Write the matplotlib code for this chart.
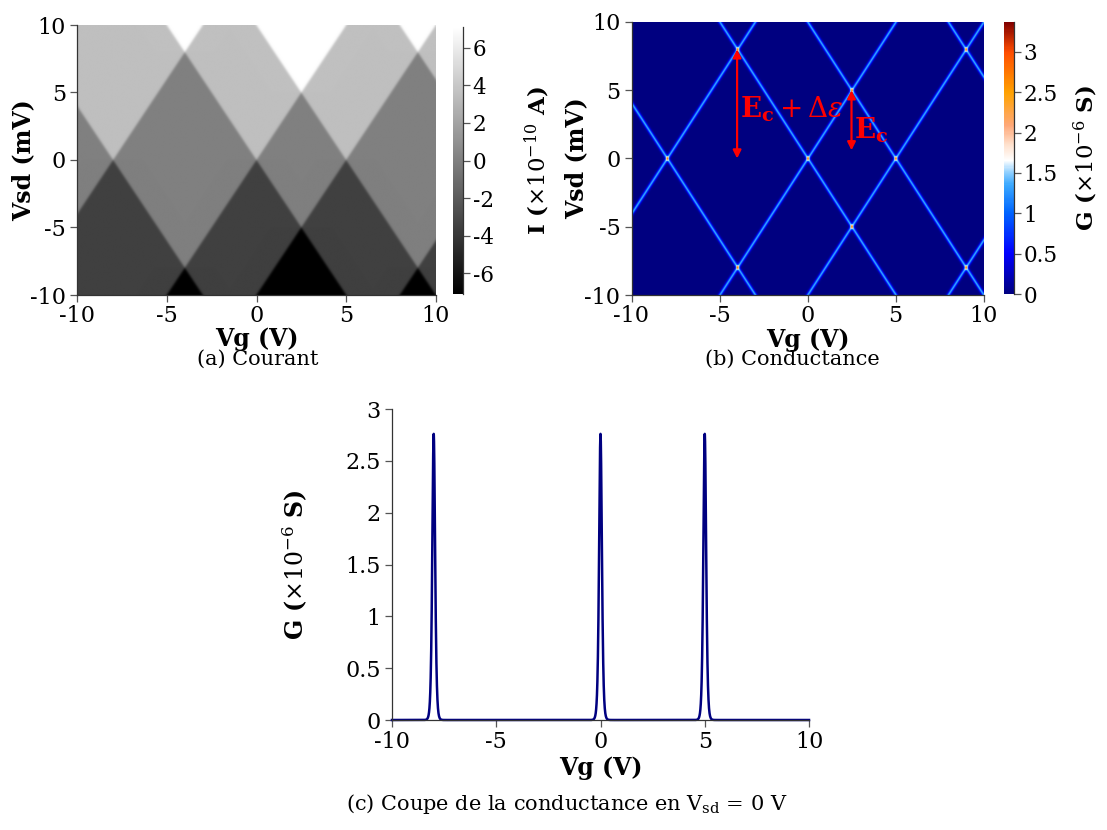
import numpy as np
import matplotlib
matplotlib.use("Agg")
import matplotlib.pyplot as plt
from matplotlib.colors import LinearSegmentedColormap
from matplotlib.ticker import FuncFormatter

plt.rcParams['font.family'] = ['DejaVu Serif']
plt.rcParams['mathtext.fontset'] = 'dejavuserif'
plt.rcParams['axes.unicode_minus'] = False

# ---------------- data ----------------
vg_degeneracy = [-8.0, 0.0, 5.0, 13.0]   # V, charge degeneracy points (Vsd = 0)
diamond_slope = 2.0                       # mV / V, edges of the diamonds
current_step = 3.55                       # x1e-10 A, current plateau step
g_line_peak = 1.38                        # x1e-6 S, conductance on one edge
kT = 0.09                                 # mV, thermal broadening of the edges

vg_ticks = [-10, -5, 0, 5, 10]
vsd_ticks = [-10, -5, 0, 5, 10]
i_ticks = [-6, -4, -2, 0, 2, 4, 6]
g_ticks = [0, 0.5, 1, 1.5, 2, 2.5, 3]
i_range = (-7.1, 7.1)
g_range = (0.0, 3.37)

arrow_x = [-4.0, 2.5]
arrow_top = [8.0, 5.0]
arrow_bottom = [0.0, 0.6]
arrow_text = [r'$\mathbf{E_c} + \mathit{\Delta\epsilon}$', r'$\mathbf{E_c}$']
arrow_text_pos = [(-3.85, 3.6), (2.65, 2.1)]

captions = ['(a) Courant', '(b) Conductance',
            r'(c) Coupe de la conductance en V$_{\rm sd}$ = 0 V']


# ---------------- maps built from the values above ----------------
def fermi(d):
    return 0.5 * (1 + np.tanh(d / (2 * kT)))


def edge_peak(d):
    return 1.0 / np.cosh(d / (2 * kT)) ** 2


vg = np.linspace(-10, 10, 704)
vsd = np.linspace(-10, 10, 546)
VG, VSD = np.meshgrid(vg, vsd)

current = np.zeros_like(VG)
cond = np.zeros_like(VG)
for v0 in vg_degeneracy:
    edge = diamond_slope * np.abs(VG - v0)
    current += current_step * (fermi(VSD - edge) + fermi(VSD + edge) - 1)
    cond += g_line_peak * (edge_peak(VSD - edge) + edge_peak(VSD + edge))

vg_cut = np.linspace(-10, 10, 4001)
g_cut = np.zeros_like(vg_cut)
for v0 in vg_degeneracy:
    g_cut += g_line_peak * 2 * edge_peak(diamond_slope * np.abs(vg_cut - v0))

g_cmap = LinearSegmentedColormap.from_list('g_map', [
    (0.00, '#000080'), (0.15, '#0000ff'), (0.30, '#0066ff'),
    (0.40, '#3aa8ff'), (0.45, '#95d2ff'), (0.49, '#ffffff'),
    (0.55, '#ffe0cc'), (0.62, '#ffa878'), (0.74, '#ffa200'),
    (0.89, '#ff4d00'), (1.00, '#800000')])

# ---------------- figure ----------------
W, H = 1107, 830
fig = plt.figure(figsize=(W / 100, H / 100), dpi=100)


def box(left, top, width, height):
    return [left / W, 1 - (top + height) / H, width / W, height / H]


ax_a = fig.add_axes(box(77, 25, 359, 270))
cax_a = fig.add_axes(box(453, 27, 10, 267))
ax_b = fig.add_axes(box(631.5, 22, 352, 273))
cax_b = fig.add_axes(box(1004, 22, 10, 272))
ax_c = fig.add_axes(box(392, 409, 417, 311))

fmt = FuncFormatter(lambda v, p: '%g' % v)


def style(ax):
    for s in ['top', 'right']:
        ax.spines[s].set_visible(False)
    for s in ['left', 'bottom']:
        ax.spines[s].set_color('#333333')
        ax.spines[s].set_linewidth(0.9)
    ax.tick_params(direction='out', length=5, width=0.9, color='#555555',
                   labelsize=16, pad=3)
    ax.xaxis.set_major_formatter(fmt)
    ax.yaxis.set_major_formatter(fmt)


im_a = ax_a.imshow(current, extent=[-10, 10, -10, 10], origin='lower',
                   aspect='auto', cmap='gray', vmin=i_range[0], vmax=i_range[1])
im_b = ax_b.imshow(cond, extent=[-10, 10, -10, 10], origin='lower',
                   aspect='auto', cmap=g_cmap, vmin=g_range[0], vmax=g_range[1])

for ax in (ax_a, ax_b):
    style(ax)
    ax.tick_params(axis='x', pad=2)
    ax.set_xticks(vg_ticks)
    ax.set_yticks(vsd_ticks)
    ax.set_xlabel('Vg (V)', fontweight='bold', fontsize=17)
    ax.set_ylabel('Vsd (mV)', fontweight='bold', fontsize=17)
    ax.xaxis.set_label_coords(0.5, -0.12)
ax_a.yaxis.set_label_coords(-0.117, 0.5)
ax_b.yaxis.set_label_coords(-0.124, 0.5)

for cax, im, ticks, lab, lx in [
        (cax_a, im_a, i_ticks, r'I ($\times10^{-10}$ A)', 7.0),
        (cax_b, im_b, g_ticks, r'G ($\times10^{-6}$ S)', 6.8)]:
    cb = fig.colorbar(im, cax=cax, ticks=ticks)
    cb.outline.set_visible(False)
    cax.spines['right'].set_visible(True)
    cax.spines['right'].set_color('#333333')
    cax.spines['right'].set_linewidth(0.9)
    cax.tick_params(direction='out', length=5, width=0.9, color='#555555',
                    labelsize=15.5, pad=2)
    cax.yaxis.set_major_formatter(fmt)
    cb.set_label(lab, fontweight='bold', fontsize=16.5)
    cax.yaxis.set_label_coords(lx, 0.5)

for x, y0, y1 in zip(arrow_x, arrow_top, arrow_bottom):
    ax_b.annotate('', xy=(x, y1), xytext=(x, y0),
                  arrowprops=dict(arrowstyle='<|-|>', color='red', lw=1.6,
                                  mutation_scale=12, shrinkA=0, shrinkB=0))
for t, (tx, ty) in zip(arrow_text, arrow_text_pos):
    ax_b.text(tx, ty, t, color='red', fontsize=20, ha='left', va='center')

ax_c.plot(vg_cut, g_cut, color='#000080', lw=1.8, clip_on=False)
ax_c.set_xlim(-10, 10)
ax_c.set_ylim(0, 3)
style(ax_c)
ax_c.set_xticks(vg_ticks)
ax_c.set_yticks(g_ticks)
ax_c.set_xlabel('Vg (V)', fontweight='bold', fontsize=17)
ax_c.set_ylabel(r'G ($\times10^{-6}$ S)', fontweight='bold', fontsize=17)
ax_c.xaxis.set_label_coords(0.5, -0.115)
ax_c.yaxis.set_label_coords(-0.197, 0.5)

fig.text(258 / W, 1 - 359 / H, captions[0], ha='center', va='center', fontsize=15)
fig.text(792 / W, 1 - 359 / H, captions[1], ha='center', va='center', fontsize=15)
fig.text(567 / W, 1 - 804 / H, captions[2], ha='center', va='center', fontsize=15)

fig.savefig('out.png', dpi=100)
